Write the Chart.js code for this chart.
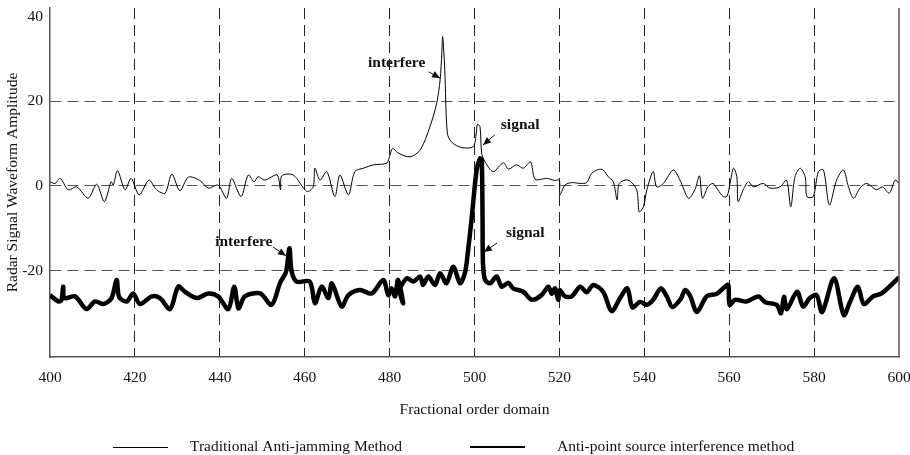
<!DOCTYPE html>
<html>
<head>
<meta charset="utf-8">
<title>Radar signal waveform</title>
<script src="https://cdn.jsdelivr.net/npm/chart.js@4.4.1/dist/chart.umd.min.js"></script>
<style>
  body { margin: 0; background: #fff; }
  canvas { display: block; }
</style>
</head>
<body>
<canvas id="chart" width="910" height="455"></canvas>
<script>
// Traditional Anti-jamming Method (thin line)
const thinX = [400.0, 401.2, 402.4, 404.3, 406.3, 409.0, 411.0, 412.8, 414.4, 414.9,
  415.9, 417.7, 419.1, 421.0, 423.3, 425.1, 427.1, 428.7, 430.6, 432.6,
  435.3, 437.3, 439.6, 441.6, 442.8, 445.0, 446.7, 448.1, 449.0, 450.6,
  453.5, 454.3, 454.6, 457.3, 460.5, 462.0, 462.4, 463.6, 465.2, 467.1,
  468.3, 470.3, 471.8, 473.8, 476.2, 479.3, 480.1, 480.7, 482.0, 484.8,
  487.2, 489.5, 491.1, 491.9, 492.3, 492.5, 493.0, 493.6, 494.6, 496.9,
  499.7, 500.4, 500.7, 501.3, 501.7, 502.5, 504.4, 506.8, 508.0, 509.9,
  511.5, 513.2, 514.3, 517.0, 519.0, 520.0, 520.1, 521.3, 522.9, 524.9,
  526.4, 527.6, 529.2, 530.3, 531.5, 532.7, 533.6, 534.1, 536.2, 538.2,
  538.8, 539.8, 540.6, 542.1, 542.9, 544.5, 546.8, 548.4, 550.4, 551.9,
  553.0, 553.7, 555.0, 556.2, 557.3, 558.6, 559.5, 560.2, 561.0, 561.8,
  562.1, 563.3, 564.5, 565.7, 568.0, 569.6, 572.0, 573.5, 574.5, 575.5,
  576.7, 577.9, 578.3, 579.8, 581.0, 582.2, 583.6, 585.3, 586.9, 588.1,
  589.3, 590.8, 592.4, 594.7, 596.1, 597.7, 599.1, 600.0];
const thinY = [1.0, 0.6, 1.8, -0.9, -0.2, -2.9, 0.4, -3.7, 1.0, 0.2,
  3.6, -0.9, 1.8, -2.1, 1.4, -0.9, -1.7, 2.8, -1.1, 2.1,
  1.3, -0.5, 0.2, -2.9, 1.8, -2.5, 2.6, 1.0, 2.2, 1.4,
  2.6, -0.9, 2.4, 2.6, -1.3, -0.2, 4.2, 1.4, 3.4, -2.5,
  2.6, -2.1, 3.4, 4.2, 5.0, 5.4, 7.3, 8.9, 7.8, 6.9,
  8.5, 14.0, 19.6, 25.1, 31.4, 35.3, 27.4, 12.5, 10.4, 9.1,
  9.3, 12.5, 14.6, 14.0, 7.7, 5.7, 3.4, 5.5, 4.0, 5.0,
  4.2, 5.7, 1.6, 1.8, 1.3, 1.4, -2.1, 0.2, 0.8, 0.6,
  0.8, 3.0, 3.9, 3.8, 2.2, 1.0, -3.3, 0.6, 1.4, -0.9,
  -6.1, -4.9, -0.9, 3.4, -0.2, 0.6, 3.8, 1.4, -2.9, -0.9,
  2.4, -2.9, -0.2, 0.6, -0.9, -2.5, -2.4, 0.6, 4.2, 2.2,
  -3.7, -0.9, 1.0, -0.2, 0.6, -0.5, -0.2, 1.4, -4.9, 2.2,
  4.2, 2.2, -2.5, -2.5, 3.4, 3.8, -4.5, 1.4, 3.8, -0.2,
  -2.9, -0.5, 0.6, -0.9, -0.2, -1.7, 1.4, 0.6];

// Anti-point source interference method (thick line)
const thickX = [400.0, 402.0, 402.7, 403.1, 403.4, 405.9, 408.6, 410.6, 412.6, 414.5,
  415.7, 416.3, 418.1, 419.6, 421.2, 424.0, 425.9, 428.3, 430.2, 431.8,
  434.6, 437.3, 439.6, 442.0, 443.4, 444.4, 445.9, 449.5, 452.2, 454.2,
  455.6, 456.4, 456.9, 458.1, 461.2, 462.4, 464.0, 465.6, 466.4, 468.7,
  470.3, 473.0, 475.8, 478.5, 479.7, 480.5, 481.3, 482.0, 483.2, 482.4,
  484.1, 485.6, 487.2, 487.9, 489.1, 490.7, 491.9, 493.4, 495.0, 496.6,
  497.8, 498.5, 499.3, 500.5, 501.3, 501.7, 501.9, 502.0, 502.5, 503.7,
  505.2, 506.4, 508.0, 509.1, 511.5, 513.5, 515.8, 517.4, 518.2, 519.0,
  519.7, 520.1, 521.3, 522.9, 524.9, 526.4, 528.0, 530.3, 532.3, 534.3,
  536.0, 537.2, 539.0, 540.6, 542.1, 543.9, 545.3, 546.6, 548.6, 549.6,
  550.8, 552.4, 554.7, 557.1, 559.0, 559.8, 560.1, 561.4, 564.1, 566.9,
  568.5, 571.2, 572.2, 572.9, 573.6, 576.0, 577.4, 579.0, 580.6, 581.9,
  584.7, 587.0, 588.5, 590.3, 591.7, 593.9, 595.9, 600.0];
const thickY = [-25.8, -27.3, -27.0, -23.8, -26.5, -26.1, -29.1, -27.3, -27.9, -26.5,
  -22.2, -26.3, -27.3, -25.4, -27.9, -26.1, -26.5, -29.1, -23.8, -25.0,
  -26.5, -25.4, -26.1, -29.1, -23.8, -28.9, -26.1, -25.4, -28.1, -22.9,
  -20.3, -14.7, -20.1, -22.6, -22.6, -27.7, -23.8, -26.5, -23.0, -28.5,
  -25.8, -24.6, -25.4, -22.2, -25.8, -24.2, -26.1, -22.2, -27.7, -24.6,
  -21.8, -22.6, -21.4, -23.4, -21.4, -23.4, -20.6, -23.0, -19.1, -23.0,
  -20.3, -15.1, -8.0, 3.8, 6.5, 6.1, -8.0, -18.3, -22.2, -23.0,
  -21.4, -23.8, -22.9, -24.2, -25.0, -26.9, -25.8, -23.8, -25.5, -24.2,
  -26.9, -24.6, -26.1, -26.1, -23.8, -25.1, -23.4, -25.0, -29.6, -26.5,
  -24.2, -28.7, -27.4, -28.1, -26.9, -24.2, -26.1, -28.6, -26.7, -24.6,
  -26.0, -29.8, -26.1, -25.5, -23.8, -23.4, -28.1, -26.9, -27.3, -26.1,
  -27.5, -28.1, -30.1, -26.2, -29.1, -25.0, -28.5, -26.5, -25.8, -29.8,
  -21.8, -30.5, -27.3, -23.8, -27.9, -26.1, -25.4, -21.6];

const yTicks = [-20, 0, 20, 40];
const seriesNames = ['Traditional Anti-jamming Method', 'Anti-point source interference method'];

// text labels with arrows, in data units
const notes = [
  { text: 'interfere', x: 474.9, y: 29.1, from: [489.2, 27.0], to: [491.9, 25.5] },
  { text: 'signal', x: 506.2, y: 14.4, from: [504.8, 12.1], to: [502.0, 9.7] },
  { text: 'interfere', x: 438.9, y: -13.2, from: [452.5, -14.4], to: [455.6, -16.5] },
  { text: 'signal', x: 507.4, y: -11.1, from: [505.3, -13.5], to: [502.2, -15.6] }
];

const toPoints = (xs, ys) => xs.map((x, i) => ({ x, y: ys[i] }));

const SERIF = "'Liberation Serif', 'Times New Roman', serif";
Chart.defaults.font.family = SERIF;
Chart.defaults.font.size = 15.5;
Chart.defaults.color = '#111';

// arrows + bold labels on the plot
const notesPlugin = {
  id: 'notes',
  afterDatasetsDraw(chart) {
    const { ctx, scales: { x, y } } = chart;
    ctx.save();
    ctx.fillStyle = '#111';
    ctx.strokeStyle = '#111';
    ctx.font = 'bold 15.5px ' + SERIF;
    ctx.textAlign = 'left';
    ctx.textBaseline = 'middle';
    notes.forEach(n => {
      ctx.fillText(n.text, x.getPixelForValue(n.x), y.getPixelForValue(n.y));
      const x1 = x.getPixelForValue(n.from[0]), y1 = y.getPixelForValue(n.from[1]);
      const x2 = x.getPixelForValue(n.to[0]), y2 = y.getPixelForValue(n.to[1]);
      const a = Math.atan2(y2 - y1, x2 - x1);
      ctx.lineWidth = 1;
      ctx.beginPath();
      ctx.moveTo(x1, y1);
      ctx.lineTo(x2, y2);
      ctx.stroke();
      ctx.beginPath();
      ctx.moveTo(x2, y2);
      ctx.lineTo(x2 - 8 * Math.cos(a) + 3.5 * Math.sin(a), y2 - 8 * Math.sin(a) - 3.5 * Math.cos(a));
      ctx.lineTo(x2 - 8 * Math.cos(a) - 3.5 * Math.sin(a), y2 - 8 * Math.sin(a) + 3.5 * Math.cos(a));
      ctx.closePath();
      ctx.fill();
    });
    ctx.restore();
  }
};

// right frame line and the legend below the axis title
const framePlugin = {
  id: 'frame',
  afterDraw(chart) {
    const { ctx, chartArea } = chart;
    ctx.save();
    ctx.strokeStyle = '#555';
    ctx.lineWidth = 1.5;
    ctx.beginPath();
    ctx.moveTo(chartArea.right, chartArea.top);
    ctx.lineTo(chartArea.right, chartArea.bottom);
    ctx.stroke();

    const ly = 447;
    const items = [
      { x: 113, w: 55, tx: 190, lw: 1, off: 0.5 },
      { x: 470, w: 55, tx: 557, lw: 2, off: 0 }
    ];
    ctx.font = '15.5px ' + SERIF;
    ctx.textBaseline = 'middle';
    ctx.fillStyle = '#111';
    items.forEach((it, i) => {
      ctx.strokeStyle = '#000';
      ctx.lineWidth = it.lw;
      ctx.beginPath();
      ctx.moveTo(it.x, ly + it.off);
      ctx.lineTo(it.x + it.w, ly + it.off);
      ctx.stroke();
      ctx.fillText(seriesNames[i], it.tx, ly);
    });
    ctx.restore();
  }
};

new Chart(document.getElementById('chart'), {
  type: 'line',
  data: {
    datasets: [{
      label: seriesNames[0],
      data: toPoints(thinX, thinY),
      borderColor: '#000',
      borderWidth: 1,
      pointRadius: 0,
      tension: 0.3,
      fill: false
    }, {
      label: seriesNames[1],
      data: toPoints(thickX, thickY),
      borderColor: '#000',
      borderWidth: 4.5,
      pointRadius: 0,
      tension: 0.3,
      fill: false
    }]
  },
  options: {
    responsive: false,
    animation: false,
    devicePixelRatio: 1,
    layout: { padding: { left: 0, top: 8, right: 11, bottom: 0 } },
    plugins: {
      legend: { display: false },
      tooltip: { enabled: false }
    },
    scales: {
      x: {
        type: 'linear',
        min: 400,
        max: 600,
        ticks: { stepSize: 20, padding: 12, maxRotation: 0 },
        grid: {
          drawTicks: false,
          lineWidth: 1,
          color: ctx => (ctx.tick && (ctx.tick.value === 400 || ctx.tick.value === 600)) ? 'rgba(0,0,0,0)' : '#222'
        },
        border: { color: '#555', width: 1.5, dash: [11, 6] },
        title: { display: true, text: 'Fractional order domain', padding: { top: 0, bottom: 36 } },
        afterFit(scale) {
          scale.height = 98;
          scale.paddingLeft = 0;
          scale.paddingRight = 0;
        }
      },
      y: {
        type: 'linear',
        min: -40.43,
        max: 42.08,
        afterBuildTicks(scale) {
          scale.ticks = yTicks.map(v => ({ value: v }));
        },
        ticks: { padding: 7 },
        grid: {
          drawTicks: false,
          lineWidth: 1,
          color: ctx => (ctx.tick && ctx.tick.value === 40) ? 'rgba(0,0,0,0)' : '#555'
        },
        border: { color: '#555', width: 1.5, dash: [11, 6] },
        title: { display: true, text: 'Radar Signal Waveform Amplitude', padding: { top: 4, bottom: 0 } },
        afterFit(scale) {
          scale.width = 50;
          scale.paddingTop = 0;
          scale.paddingBottom = 0;
        }
      }
    }
  },
  plugins: [notesPlugin, framePlugin]
});
</script>
</body>
</html>
